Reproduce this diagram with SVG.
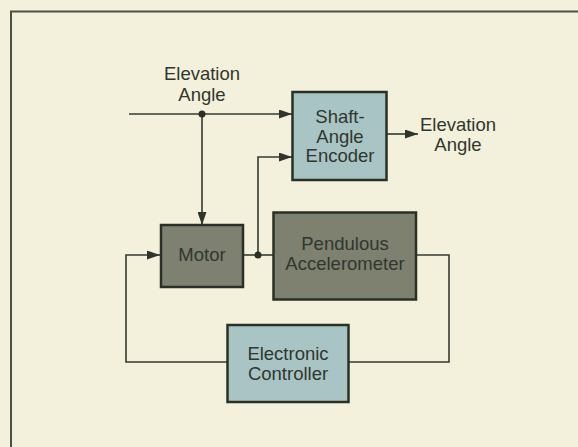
<svg xmlns="http://www.w3.org/2000/svg" width="578" height="447" viewBox="0 0 578 447">
  <defs>
    <marker id="arr" viewBox="0 0 13 9" refX="13" refY="4.5" markerWidth="13" markerHeight="9" markerUnits="userSpaceOnUse" orient="auto">
      <path d="M0,0 L13,4.5 L0,9 Z" fill="#2f352b"/>
    </marker>
  </defs>
  <style>
    .bg { fill: #f3f1dc; }
    .frame { fill: none; stroke: #4a5244; stroke-width: 2; }
    .blue { fill: #a9c4c4; stroke: #2a3026; stroke-width: 2.5; }
    .dark { fill: #7e8070; stroke: #2a3026; stroke-width: 2.5; }
    .ln { fill: none; stroke: #353b30; stroke-width: 1.6; }
    .dot { fill: #2a3026; }
    text { font-family: "Liberation Sans", Arial, sans-serif; font-size: 18.5px; fill: #30372e; text-anchor: middle; }
  </style>
  <rect class="bg" x="0" y="0" width="578" height="447"/>
  <path class="frame" d="M11,447 L11,11.5 L578,11.5"/>

  <g id="connectors">
    <path class="ln" d="M129,114 L292,114" marker-end="url(#arr)"/>
    <path class="ln" d="M202,114 L202,225" marker-end="url(#arr)"/>
    <path class="ln" d="M243,255 L273,255"/>
    <path class="ln" d="M258,255 L258,157 L292,157" marker-end="url(#arr)"/>
    <path class="ln" d="M387,134 L418,134" marker-end="url(#arr)"/>
    <path class="ln" d="M416,255 L449,255 L449,362 L348,362"/>
    <path class="ln" d="M227,362 L126,362 L126,255 L160,255" marker-end="url(#arr)"/>
    <circle class="dot" cx="202" cy="114" r="3.5"/>
    <circle class="dot" cx="258" cy="255" r="3.5"/>
  </g>

  <g id="input-label">
    <text x="202" y="80">Elevation</text>
    <text x="202" y="101">Angle</text>
  </g>

  <g id="output-label">
    <text x="458" y="131">Elevation</text>
    <text x="458" y="151">Angle</text>
  </g>

  <g id="encoder">
    <rect class="blue" x="292.5" y="92" width="94" height="88"/>
    <text x="340" y="123">Shaft-</text>
    <text x="340" y="142.5">Angle</text>
    <text x="340" y="162">Encoder</text>
  </g>

  <g id="motor">
    <rect class="dark" x="161" y="225" width="82" height="62"/>
    <text x="202" y="261">Motor</text>
  </g>

  <g id="accelerometer">
    <rect class="dark" x="273.5" y="212.5" width="142.5" height="87"/>
    <text x="345" y="249.5">Pendulous</text>
    <text x="345" y="270">Accelerometer</text>
  </g>

  <g id="controller">
    <rect class="blue" x="227.5" y="325" width="121" height="77"/>
    <text x="288" y="359.5">Electronic</text>
    <text x="288" y="380">Controller</text>
  </g>
</svg>
